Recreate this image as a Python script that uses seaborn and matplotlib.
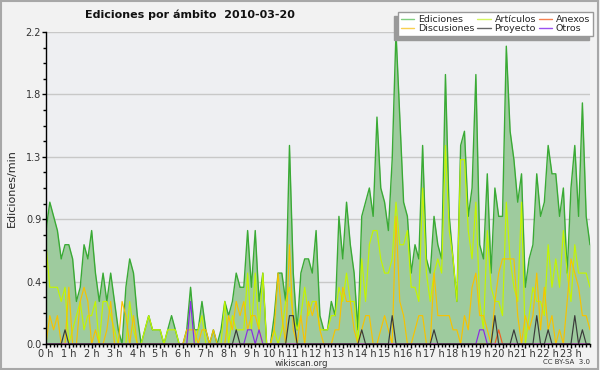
import matplotlib
matplotlib.use("Agg")
import matplotlib.pyplot as plt
import numpy as np
import pandas as pd
import seaborn as sns
from matplotlib.lines import Line2D
from matplotlib.patches import Rectangle
from matplotlib.ticker import MultipleLocator


SLOTS_PER_HOUR = 6  # one value every 10 minutes, 144 per day

# edits per minute, one row = two hours
EDICIONES = [
    0.8, 1.0, 0.9, 0.8, 0.6, 0.7, 0.7, 0.6, 0.3, 0.4, 0.7, 0.6,
    0.8, 0.5, 0.3, 0.5, 0.3, 0.5, 0.3, 0.1, 0.0, 0.4, 0.6, 0.5,
    0.2, 0.0, 0.1, 0.2, 0.1, 0.1, 0.1, 0.0, 0.1, 0.2, 0.1, 0.0,
    0.0, 0.1, 0.4, 0.1, 0.1, 0.3, 0.1, 0.0, 0.1, 0.0, 0.1, 0.3,
    0.2, 0.3, 0.5, 0.4, 0.4, 0.8, 0.4, 0.8, 0.3, 0.5, 0.0, 0.0,
    0.2, 0.5, 0.5, 0.3, 1.4, 0.5, 0.1, 0.5, 0.6, 0.6, 0.5, 0.8,
    0.2, 0.1, 0.1, 0.3, 0.2, 0.9, 0.6, 1.0, 0.7, 0.5, 0.1, 0.9,
    1.0, 1.1, 0.9, 1.6, 1.1, 1.0, 0.8, 1.3, 2.2, 1.6, 1.0, 0.9,
    0.5, 0.7, 0.6, 1.4, 0.6, 0.5, 0.9, 0.7, 0.6, 1.9, 0.9, 0.6,
    0.3, 1.4, 1.5, 0.9, 1.1, 1.9, 0.7, 0.6, 1.2, 0.5, 1.1, 0.9,
    0.9, 2.1, 1.5, 1.3, 1.0, 1.2, 0.4, 0.6, 0.7, 1.2, 0.9, 1.0,
    1.4, 1.2, 1.2, 0.9, 1.1, 0.5, 1.1, 1.4, 0.9, 1.7, 0.9, 0.7,
]
ARTICULOS = [
    0.7, 0.4, 0.4, 0.4, 0.3, 0.4, 0.0, 0.1, 0.2, 0.3, 0.1, 0.2,
    0.2, 0.3, 0.0, 0.3, 0.3, 0.2, 0.1, 0.0, 0.0, 0.0, 0.3, 0.1,
    0.0, 0.0, 0.1, 0.2, 0.1, 0.1, 0.1, 0.0, 0.1, 0.1, 0.1, 0.0,
    0.0, 0.0, 0.0, 0.0, 0.1, 0.2, 0.0, 0.0, 0.0, 0.0, 0.0, 0.3,
    0.0, 0.2, 0.1, 0.1, 0.1, 0.5, 0.1, 0.5, 0.1, 0.5, 0.0, 0.0,
    0.1, 0.0, 0.1, 0.3, 0.4, 0.2, 0.1, 0.2, 0.4, 0.2, 0.3, 0.3,
    0.1, 0.1, 0.1, 0.2, 0.2, 0.4, 0.3, 0.5, 0.3, 0.3, 0.0, 0.6,
    0.3, 0.7, 0.8, 0.8, 0.6, 0.5, 0.5, 0.6, 1.0, 0.7, 0.7, 0.8,
    0.4, 0.4, 0.3, 1.1, 0.5, 0.3, 0.5, 0.6, 0.5, 1.4, 0.8, 0.6,
    0.3, 1.3, 1.3, 0.8, 0.6, 1.0, 0.3, 0.1, 0.8, 0.4, 0.3, 0.3,
    0.2, 1.0, 0.6, 0.4, 0.3, 1.0, 0.0, 0.2, 0.4, 0.3, 0.3, 0.2,
    0.7, 0.4, 0.6, 0.4, 0.8, 0.5, 0.3, 0.7, 0.5, 0.5, 0.5, 0.4,
]
DISCUSIONES = [
    0.0, 0.2, 0.1, 0.2, 0.0, 0.0, 0.4, 0.0, 0.0, 0.3, 0.4, 0.3,
    0.0, 0.1, 0.0, 0.0, 0.1, 0.3, 0.0, 0.0, 0.3, 0.2, 0.0, 0.2,
    0.0, 0.0, 0.0, 0.0, 0.0, 0.0, 0.0, 0.0, 0.0, 0.0, 0.0, 0.0,
    0.0, 0.1, 0.1, 0.1, 0.0, 0.1, 0.1, 0.0, 0.1, 0.0, 0.0, 0.0,
    0.2, 0.1, 0.3, 0.2, 0.3, 0.1, 0.2, 0.2, 0.1, 0.0, 0.0, 0.0,
    0.1, 0.5, 0.2, 0.0, 0.7, 0.1, 0.0, 0.2, 0.0, 0.3, 0.2, 0.3,
    0.1, 0.0, 0.0, 0.0, 0.1, 0.1, 0.4, 0.3, 0.3, 0.1, 0.0, 0.1,
    0.2, 0.2, 0.0, 0.0, 0.1, 0.2, 0.1, 0.0, 0.9, 0.3, 0.2, 0.0,
    0.0, 0.1, 0.2, 0.2, 0.0, 0.0, 0.5, 0.2, 0.2, 0.2, 0.2, 0.1,
    0.1, 0.0, 0.2, 0.1, 0.4, 0.5, 0.2, 0.2, 0.1, 0.0, 0.3, 0.5,
    0.6, 0.6, 0.6, 0.6, 0.2, 0.0, 0.2, 0.1, 0.2, 0.5, 0.1, 0.4,
    0.1, 0.2, 0.0, 0.1, 0.0, 0.3, 0.6, 0.5, 0.4, 0.2, 0.2, 0.1,
]
# sparse series: only the non-zero slots
PROYECTO = {
    "00:50": 0.1, "08:20": 0.1, "10:40": 0.2, "10:50": 0.2, "13:50": 0.1,
    "15:10": 0.2, "17:00": 0.1, "19:40": 0.2, "20:30": 0.1, "21:30": 0.2,
    "22:00": 0.1, "23:10": 0.2, "23:30": 0.1,
}
ANEXOS = {"19:50": 0.1}
OTROS = {
    "06:20": 0.3, "08:50": 0.1, "09:00": 0.1, "09:20": 0.1,
    "19:00": 0.1, "19:10": 0.1,
}

SERIES_ORDER = ["Artículos", "Discusiones", "Anexos", "Otros", "Proyecto"]
LEGEND_ORDER = ["Ediciones", "Discusiones", "Artículos", "Proyecto", "Anexos", "Otros"]
LINE_COLORS = {
    "Ediciones": "#3aaa35",
    "Artículos": "#c4f500",
    "Discusiones": "#f7c300",
    "Anexos": "#f06020",
    "Proyecto": "#3a3a3a",
    "Otros": "#8a2be2",
}
LEGEND_COLORS = {
    "Ediciones": "#7fcf7f",
    "Artículos": "#d4f560",
    "Discusiones": "#f9d050",
    "Anexos": "#f58050",
    "Proyecto": "#666666",
    "Otros": "#9a50f0",
}

Y_TICKS = [0.0, 0.44, 0.88, 1.32, 1.76, 2.2]
Y_TICK_LABELS = ["0.0", "0.4", "0.9", "1.3", "1.8", "2.2"]
HOUR_LABELS = [f"{h} h" for h in range(24)]


def expand(points: dict) -> list:
    values = [0.0] * (24 * SLOTS_PER_HOUR)
    for stamp, value in points.items():
        hh, mm = stamp.split(":")
        values[int(hh) * SLOTS_PER_HOUR + int(mm) // 10] = value
    return values


def main() -> None:
    sns.set_theme(style="white")
    plt.rcParams["font.family"] = ["DejaVu Sans"]

    hours = np.arange(len(EDICIONES)) / SLOTS_PER_HOUR
    by_name = {
        "Artículos": ARTICULOS,
        "Discusiones": DISCUSIONES,
        "Anexos": expand(ANEXOS),
        "Otros": expand(OTROS),
        "Proyecto": expand(PROYECTO),
    }
    long_df = pd.concat(
        [pd.DataFrame({"hora": hours, "valor": vals, "serie": name}) for name, vals in by_name.items()],
        ignore_index=True,
    )

    fig = plt.figure(figsize=(6.0, 3.7), dpi=100, facecolor="#f2f2f2")
    ax = fig.add_axes([46 / 600, 26 / 370, 544 / 600, 312 / 370])
    ax.set_facecolor("#eeeff2")

    ax.fill_between(hours, EDICIONES, color="#9ecb9e", linewidth=0, zorder=1)
    sns.lineplot(x=hours, y=EDICIONES, color=LINE_COLORS["Ediciones"], linewidth=1.0, ax=ax, zorder=2)
    sns.lineplot(
        data=long_df, x="hora", y="valor", hue="serie", hue_order=SERIES_ORDER,
        palette=LINE_COLORS, linewidth=0.85, legend=False, ax=ax, zorder=3,
    )

    ax.set_xlim(0, hours[-1])
    ax.set_ylim(0, 2.2)
    ax.set_xlabel("")
    ax.set_ylabel("Ediciones/min", fontsize=8, labelpad=6)

    ax.set_xticks(range(24), labels=HOUR_LABELS)
    ax.xaxis.set_minor_locator(MultipleLocator(1 / SLOTS_PER_HOUR))
    ax.set_yticks(Y_TICKS, labels=Y_TICK_LABELS)
    ax.yaxis.set_minor_locator(MultipleLocator(0.11))
    ax.tick_params(axis="both", which="major", direction="out", length=3.2, width=1,
                   color="black", labelsize=7, pad=0.3, labelcolor="#333333")
    ax.tick_params(axis="both", which="minor", direction="out", length=2.2, width=1, color="black")
    ax.tick_params(axis="x", which="both", bottom=True)
    ax.tick_params(axis="y", which="both", left=True)

    ax.grid(axis="y", color="#c8c8c8", linewidth=1)
    ax.set_axisbelow(True)
    for side in ("top", "right"):
        ax.spines[side].set_visible(False)
    for side in ("left", "bottom"):
        ax.spines[side].set_color("black")
        ax.spines[side].set_linewidth(1)
        ax.spines[side].set_zorder(5)

    fig.text(85 / 600, 1 - 15 / 370, "Ediciones por ámbito  2010-03-20",
             fontsize=8, fontweight="bold", ha="left", va="center", color="#111111")
    fig.text(301 / 600, 1 - 363.5 / 370, "wikiscan.org", fontsize=6.2, ha="center", va="center", color="#333333")
    fig.text(590 / 600, 1 - 362 / 370, "CC BY-SA  3.0", fontsize=5, ha="right", va="center", color="#333333")

    handles = [Line2D([0], [0], color=LEGEND_COLORS[name], lw=1, label=name) for name in LEGEND_ORDER]
    leg = fig.legend(
        handles=handles, loc="upper right", bbox_to_anchor=(593 / 600, 1 - 12 / 370),
        ncol=3, fontsize=6.8, frameon=True, fancybox=False, borderaxespad=0,
        handlelength=1.4, handletextpad=0.4, columnspacing=0.3, labelspacing=0.05,
        borderpad=0.3, shadow={"ox": -3, "oy": -3, "shade": 0.4, "alpha": 1},
    )
    leg.get_frame().set_facecolor("white")
    leg.get_frame().set_edgecolor("#999999")
    leg.get_frame().set_linewidth(1)

    fig.patches.append(Rectangle((0.002, 0.003), 0.995, 0.993, transform=fig.transFigure,
                                 fill=False, edgecolor="#a8a8a8", linewidth=1.5))

    fig.savefig("out.png", dpi=100, facecolor=fig.get_facecolor())
    plt.close(fig)


if __name__ == "__main__":
    main()
